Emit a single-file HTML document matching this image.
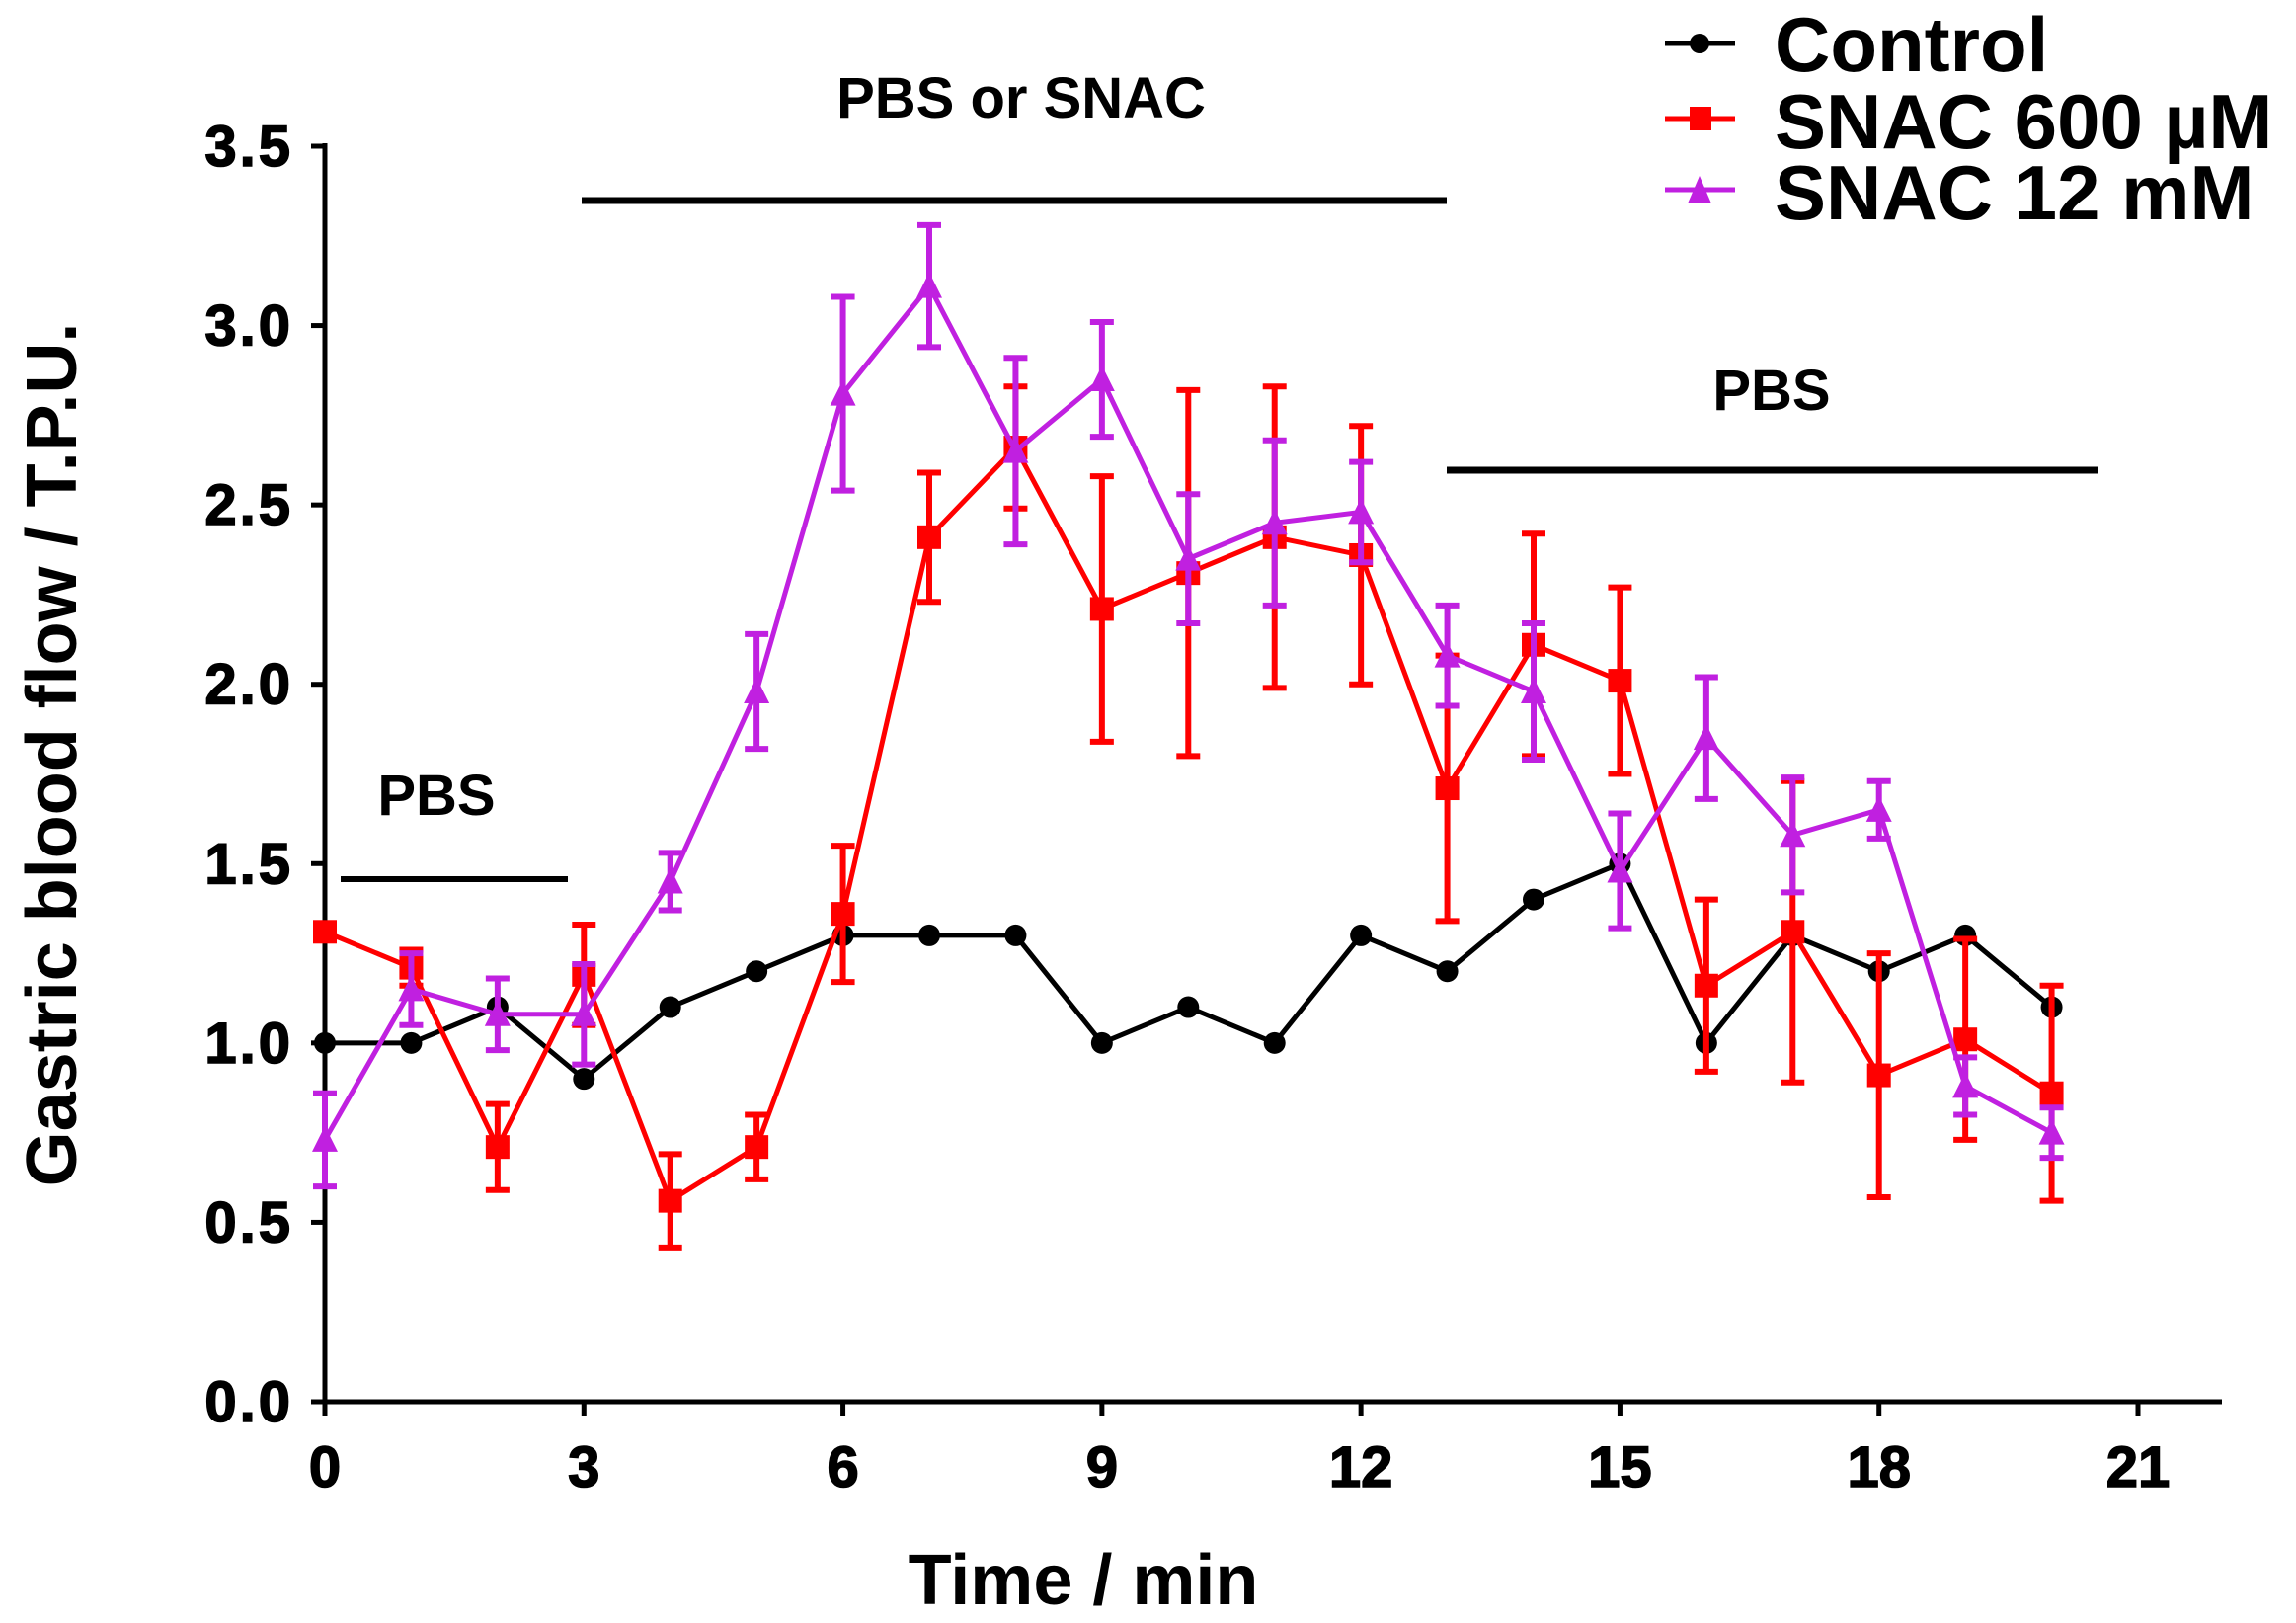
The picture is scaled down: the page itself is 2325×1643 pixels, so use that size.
<!DOCTYPE html>
<html><head><meta charset="utf-8"><style>html,body{margin:0;padding:0;background:#fff}svg{display:block}text{font-family:"Liberation Sans",Arial,sans-serif;font-weight:bold}</style></head>
<body>
<svg id="chart" width="2325" height="1643" viewBox="0 0 2325 1643" xmlns="http://www.w3.org/2000/svg">
<g id="axes"></g>
<g id="plot"></g>
<g id="ann">
  <text x="1034" y="119" font-size="58" text-anchor="middle">PBS or SNAC</text>
  <line x1="589" y1="203" x2="1465" y2="203" stroke="#000" stroke-width="7"/>
  <text x="1794" y="415" font-size="58" text-anchor="middle">PBS</text>
  <line x1="1465" y1="476" x2="2124" y2="476" stroke="#000" stroke-width="7"/>
  <text x="442" y="825" font-size="58" text-anchor="middle">PBS</text>
  <line x1="345" y1="890" x2="575" y2="890" stroke="#000" stroke-width="6"/>
</g>
<g id="legend">
  <g>
    <line x1="1686" y1="44" x2="1757" y2="44" stroke="#000" stroke-width="5"/><circle cx="1721" cy="44" r="10" fill="#000"/>
    <text x="1797" y="72" font-size="78">Control</text></g>
  <g>
    <line x1="1686" y1="120" x2="1757" y2="120" stroke="#f00" stroke-width="5"/><rect x="1711" y="108" width="22" height="24" fill="#f00"/>
    <text x="1797" y="150" font-size="78">SNAC 600 µM</text></g>
  <g>
    <line x1="1686" y1="192" x2="1757" y2="192" stroke="#c020e0" stroke-width="5"/><polygon points="1721,178 1733,206 1709,206" fill="#c020e0"/>
    <text x="1797" y="222" font-size="78">SNAC 12 mM</text></g>
</g>
<text x="1097" y="1624" font-size="72" text-anchor="middle">Time / min</text>
<text x="0" y="0" font-size="72" text-anchor="middle" transform="translate(77,764) rotate(-90)">Gastric blood flow / T.P.U.</text>
</svg>
<script>
const times = [0,1,2,3,4,5,6,7,8,9,10,11,12,13,14,15,16,17,18,19,20];
const controlVals = [1.0,1.0,1.1,0.9,1.1,1.2,1.3,1.3,1.3,1.0,1.1,1.0,1.3,1.2,1.4,1.5,1.0,1.3,1.2,1.3,1.1];
const snac600Vals = [1.31,1.21,0.71,1.19,0.56,0.71,1.36,2.41,2.66,2.21,2.31,2.41,2.36,1.71,2.11,2.01,1.16,1.31,0.91,1.01,0.86];
const snac600Err = [0,0.05,0.12,0.14,0.13,0.09,0.19,0.18,0.17,0.37,0.51,0.42,0.36,0.37,0.31,0.26,0.24,0.42,0.34,0.28,0.30];
const snac12Vals = [0.73,1.15,1.08,1.08,1.45,1.98,2.81,3.11,2.65,2.85,2.35,2.45,2.48,2.08,1.98,1.48,1.85,1.58,1.65,0.88,0.75];
const snac12Err = [0.13,0.1,0.1,0.14,0.08,0.16,0.27,0.17,0.26,0.16,0.18,0.23,0.14,0.14,0.19,0.16,0.17,0.16,0.08,0.08,0.07];
const xTicks = [0,3,6,9,12,15,18,21];
const yTicks = [0.0,0.5,1.0,1.5,2.0,2.5,3.0,3.5];

const NS="http://www.w3.org/2000/svg";
const X0=329,X21=2165,Y0=1419,Y35=148;
const xs=t=>X0+(X21-X0)*t/21;
const ys=v=>Y0-(Y0-Y35)*v/3.5;
function mk(tag,attrs,parent){const e=document.createElementNS(NS,tag);for(const k in attrs)e.setAttribute(k,attrs[k]);parent.appendChild(e);return e;}
const axes=document.getElementById('axes'),plot=document.getElementById('plot');

let a=mk('line',{x1:X0,y1:ys(3.5)-3,x2:X0,y2:Y0+3,stroke:'#000','stroke-width':5},axes);


a=mk('line',{x1:X0-2,y1:Y0,x2:2250,y2:Y0,stroke:'#000','stroke-width':5},axes);


yTicks.forEach(v=>{
  const y=ys(v);
  mk('line',{x1:X0-14,y1:y,x2:X0,y2:y,stroke:'#000','stroke-width':5},axes);
  const t=mk('text',{x:297,y:y+20,'font-size':58,'text-anchor':'end','letter-spacing':'3',stroke:'#000','stroke-width':1.5},axes);
  t.textContent=v.toFixed(1);
  
  
});
xTicks.forEach(v=>{
  const x=xs(v);
  mk('line',{x1:x,y1:Y0,x2:x,y2:Y0+14,stroke:'#000','stroke-width':5},axes);
  const t=mk('text',{x:x,y:1505,'font-size':58,'text-anchor':'middle',stroke:'#000','stroke-width':1.5},axes);
  t.textContent=v;
  
  
});

function series(vals,errs,color,marker,name){
  const g=mk('g',{},plot);
  
  
  if(errs){vals.forEach((v,i)=>{if(!errs[i])return;const x=xs(times[i]);
    const eb=mk('path',{d:`M${x},${ys(v+errs[i])}V${ys(v-errs[i])}M${x-12},${ys(v+errs[i])}h24M${x-12},${ys(v-errs[i])}h24`,stroke:color,'stroke-width':6,fill:'none'},g);
    
    });}
  const ln=mk('polyline',{points:vals.map((v,i)=>xs(times[i])+','+ys(v)).join(' '),fill:'none',stroke:color,'stroke-width':5},g);
  
  
  vals.forEach((v,i)=>{const x=xs(times[i]),y=ys(v);let m;
    if(marker==='c')m=mk('circle',{cx:x,cy:y,r:11,fill:color},g);
    else if(marker==='s')m=mk('rect',{x:x-12,y:y-12,width:24,height:24,fill:color},g);
    else m=mk('polygon',{points:`${x},${y-14} ${x+13},${y+12} ${x-13},${y+12}`,fill:color},g);
    
    });
}
series(controlVals,null,'#000','c','control');
series(snac600Vals,snac600Err,'#f00','s','snac-600');
series(snac12Vals,snac12Err,'#c020e0','t','snac-12');
</script>
</body></html>
